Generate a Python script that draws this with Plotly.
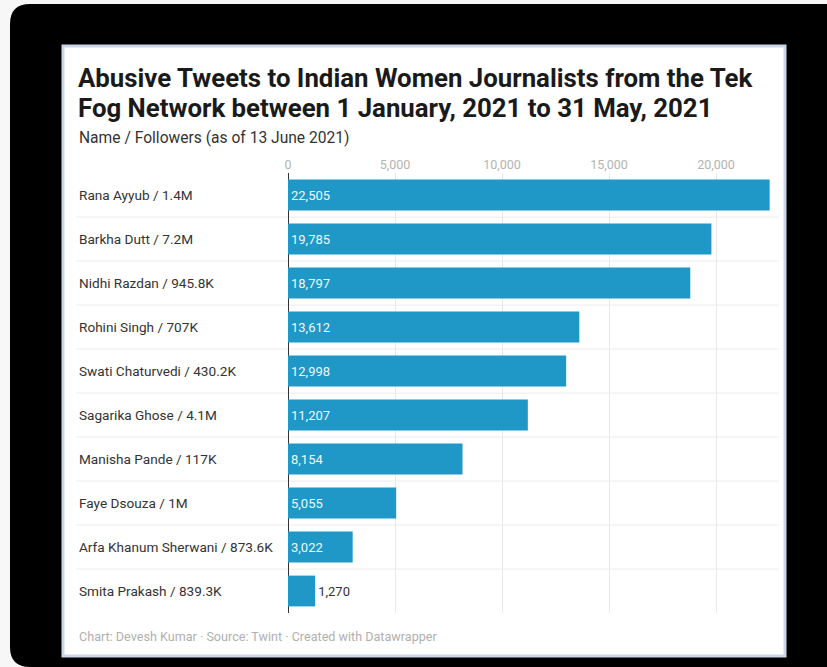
import plotly.graph_objects as go

names = ["Rana Ayyub / 1.4M", "Barkha Dutt / 7.2M", "Nidhi Razdan / 945.8K",
         "Rohini Singh / 707K", "Swati Chaturvedi / 430.2K", "Sagarika Ghose / 4.1M",
         "Manisha Pande / 117K", "Faye Dsouza / 1M", "Arfa Khanum Sherwani / 873.6K",
         "Smita Prakash / 839.3K"]
tweets = [22505, 19785, 18797, 13612, 12998, 11207, 8154, 5055, 3022, 1270]
tick_vals = [0, 5000, 10000, 15000, 20000]

title_lines = ["Abusive Tweets to Indian Women Journalists from the Tek",
               "Fog Network between 1 January, 2021 to 31 May, 2021"]
subtitle = "Name / Followers (as of 13 June 2021)"
footer = "Chart: Devesh Kumar · Source: Twint · Created with Datawrapper"

W, H = 827, 667
L, R, T, B = 288, 775, 173, 613
FONT = "Roboto"
BAR = "#1f97c7"

def px(x):
    return (x - L) / (R - L)

def py(y):
    return (B - y) / (B - T)

small = [v < 2000 for v in tweets]
fig = go.Figure(go.Bar(
    x=tweets, y=names, orientation="h", width=0.7,
    marker=dict(color=BAR, line=dict(width=0)),
    text=[f"{v:,}" for v in tweets],
    textposition=["outside" if s else "inside" for s in small],
    insidetextanchor="start",
    textfont=dict(family=FONT, size=13, color=["#333333" if s else "#eef8fc" for s in small]),
    cliponaxis=False, hoverinfo="skip",
))

shapes = []
# black device frame (rounded rectangle)
r = 20
x0, y0, x1, y1 = px(10), py(4), px(860), py(667)
rx = r / (R - L); ry = r / (B - T)
path = (f"M {x0+rx},{y0} L {x1},{y0} L {x1},{y1} L {x0+rx},{y1} "
        f"Q {x0},{y1} {x0},{y1+ry} L {x0},{y0-ry} Q {x0},{y0} {x0+rx},{y0} Z")
shapes.append(dict(type="path", path=path, xref="paper", yref="paper",
                   fillcolor="black", line=dict(width=0), layer="below"))
# white panel
shapes.append(dict(type="rect", xref="paper", yref="paper",
                   x0=px(63), x1=px(785), y0=py(46), y1=py(656),
                   fillcolor="white", line=dict(color="#c9d7e6", width=3), layer="below"))
# row separators
for i in range(len(names) - 1):
    shapes.append(dict(type="line", xref="paper", yref="y", x0=px(76), x1=px(779),
                       y0=i + 0.5, y1=i + 0.5, line=dict(color="#ececec", width=1),
                       layer="below"))

ann = []
for n in names:
    ann.append(dict(text=n, x=px(77), y=n, xref="paper", yref="y", xanchor="left",
                    yanchor="middle", showarrow=False,
                    font=dict(family=FONT, size=13.6, color="#333333")))
for line, yc in zip(title_lines, [78, 108]):
    ann.append(dict(text=f"<b>{line}</b>", x=px(76), y=py(yc), xref="paper", yref="paper",
                    xanchor="left", yanchor="middle", align="left", showarrow=False,
                    font=dict(family=FONT, size=25.8, color="#1a1a1a")))
ann.append(dict(text=subtitle, x=px(77), y=py(138), xref="paper", yref="paper",
                xanchor="left", yanchor="middle", showarrow=False,
                font=dict(family=FONT, size=15.6, color="#333333")))
ann.append(dict(text=footer, x=px(77), y=py(636), xref="paper", yref="paper",
                xanchor="left", yanchor="middle", showarrow=False,
                font=dict(family=FONT, size=12.6, color="#b0b0b0")))

fig.update_layout(
    width=W, height=H,
    margin=dict(l=L, r=W - R, t=T, b=H - B, pad=0),
    paper_bgcolor="#f7f7f7", plot_bgcolor="rgba(0,0,0,0)",
    showlegend=False, shapes=shapes, annotations=ann,
    xaxis=dict(range=[0, 22757], side="top", tickvals=tick_vals, tickformat=",",
               showgrid=True, gridcolor="#e8e8e8", gridwidth=1,
               zeroline=True, zerolinecolor="#333333", zerolinewidth=1,
               tickfont=dict(family=FONT, size=12.5, color="#b3b3b3"),
               ticks="", ticklabelstandoff=1, fixedrange=True),
    yaxis=dict(autorange="reversed", showticklabels=False, showgrid=False,
               zeroline=False, ticks="", fixedrange=True),
    font=dict(family=FONT),
)

fig.write_html("out.html")
